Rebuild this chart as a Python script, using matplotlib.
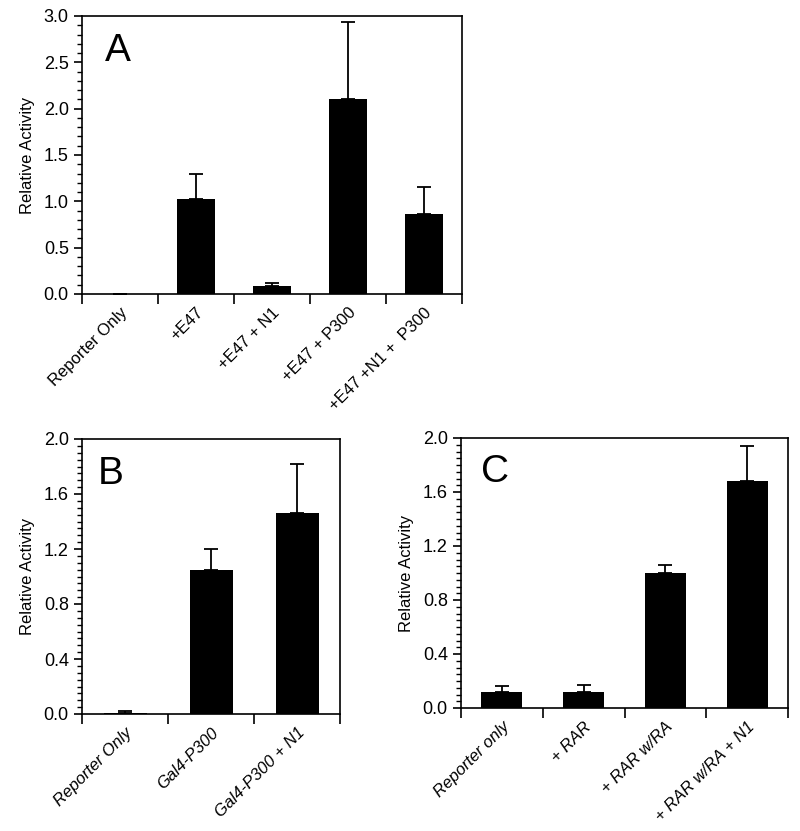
import matplotlib.pyplot as plt
import matplotlib.transforms as mtransforms
from matplotlib.ticker import MultipleLocator, FixedLocator, NullFormatter

plt.rcParams['font.family'] = ['Liberation Sans', 'DejaVu Sans']

# Panel A
labels_a = ["Reporter Only", "+E47", "+E47 + N1", "+E47 + P300", "+E47 +N1 +  P300"]
values_a = [0.0, 1.02, 0.09, 2.10, 0.86]
errors_a = [0.0, 0.28, 0.03, 0.84, 0.30]

# Panel B
labels_b = ["Reporter Only", "Gal4-P300", "Gal4-P300 + N1"]
values_b = [0.01, 1.05, 1.46]
errors_b = [0.01, 0.15, 0.36]

# Panel C
labels_c = ["Reporter only", "+ RAR", "+ RAR w/RA", "+ RAR w/RA + N1"]
values_c = [0.12, 0.12, 1.00, 1.68]
errors_c = [0.04, 0.05, 0.06, 0.26]


def draw_panel(fig, ax, labels, values, errors, letter, ymax, major, minor, italic):
    n = len(values)
    x = list(range(n))
    ax.bar(x, values, width=0.5, color='black', zorder=2)
    ax.errorbar(x, values, yerr=[[0] * n, errors], fmt='none', ecolor='black',
                elinewidth=1.3, capsize=5, capthick=1.3, zorder=3)
    ax.set_xlim(-0.5, n - 0.5)
    ax.set_ylim(0, ymax)
    ax.yaxis.set_major_locator(MultipleLocator(major))
    ax.yaxis.set_minor_locator(MultipleLocator(minor))
    ax.yaxis.set_major_formatter(plt.FuncFormatter(lambda v, p: f"{v:.1f}"))
    # category separators as ticks, labels at category centres
    ax.xaxis.set_major_locator(FixedLocator([i - 0.5 for i in range(n + 1)]))
    ax.xaxis.set_major_formatter(NullFormatter())
    ax.xaxis.set_minor_locator(FixedLocator(x))
    ax.set_xticklabels(labels, minor=True, rotation=45, ha='right',
                       rotation_mode='anchor', fontsize=12,
                       style='italic' if italic else 'normal')
    shift = mtransforms.ScaledTranslation(0.05, 0, fig.dpi_scale_trans)
    for t in ax.get_xticklabels(minor=True):
        t.set_transform(t.get_transform() + shift)
    ax.tick_params(axis='x', which='major', direction='out', length=7, width=1.2)
    ax.tick_params(axis='x', which='minor', length=0, pad=8)
    ax.tick_params(axis='y', which='major', direction='out', length=6, width=1.2,
                   labelsize=13)
    ax.tick_params(axis='y', which='minor', direction='out', length=3.5, width=1)
    for s in ax.spines.values():
        s.set_linewidth(1.2)
    ax.set_ylabel("Relative Activity", fontsize=12, labelpad=6)
    ax.text(0.06, 0.94, letter, transform=ax.transAxes, fontsize=28,
            va='top', ha='left')


fig = plt.figure(figsize=(8, 8.31), dpi=100)
W, H = 800, 831
ax_a = fig.add_axes([82 / W, 1 - 294 / H, (462 - 82) / W, (294 - 16) / H])
ax_b = fig.add_axes([82 / W, 1 - 714 / H, (340 - 82) / W, (714 - 439) / H])
ax_c = fig.add_axes([461 / W, 1 - 708 / H, (788 - 461) / W, (708 - 438) / H])

draw_panel(fig, ax_a, labels_a, values_a, errors_a, "A", 3.0, 0.5, 0.1, False)
draw_panel(fig, ax_b, labels_b, values_b, errors_b, "B", 2.0, 0.4, 0.05, True)
draw_panel(fig, ax_c, labels_c, values_c, errors_c, "C", 2.0, 0.4, 0.05, True)

fig.savefig("out.png", dpi=100)
